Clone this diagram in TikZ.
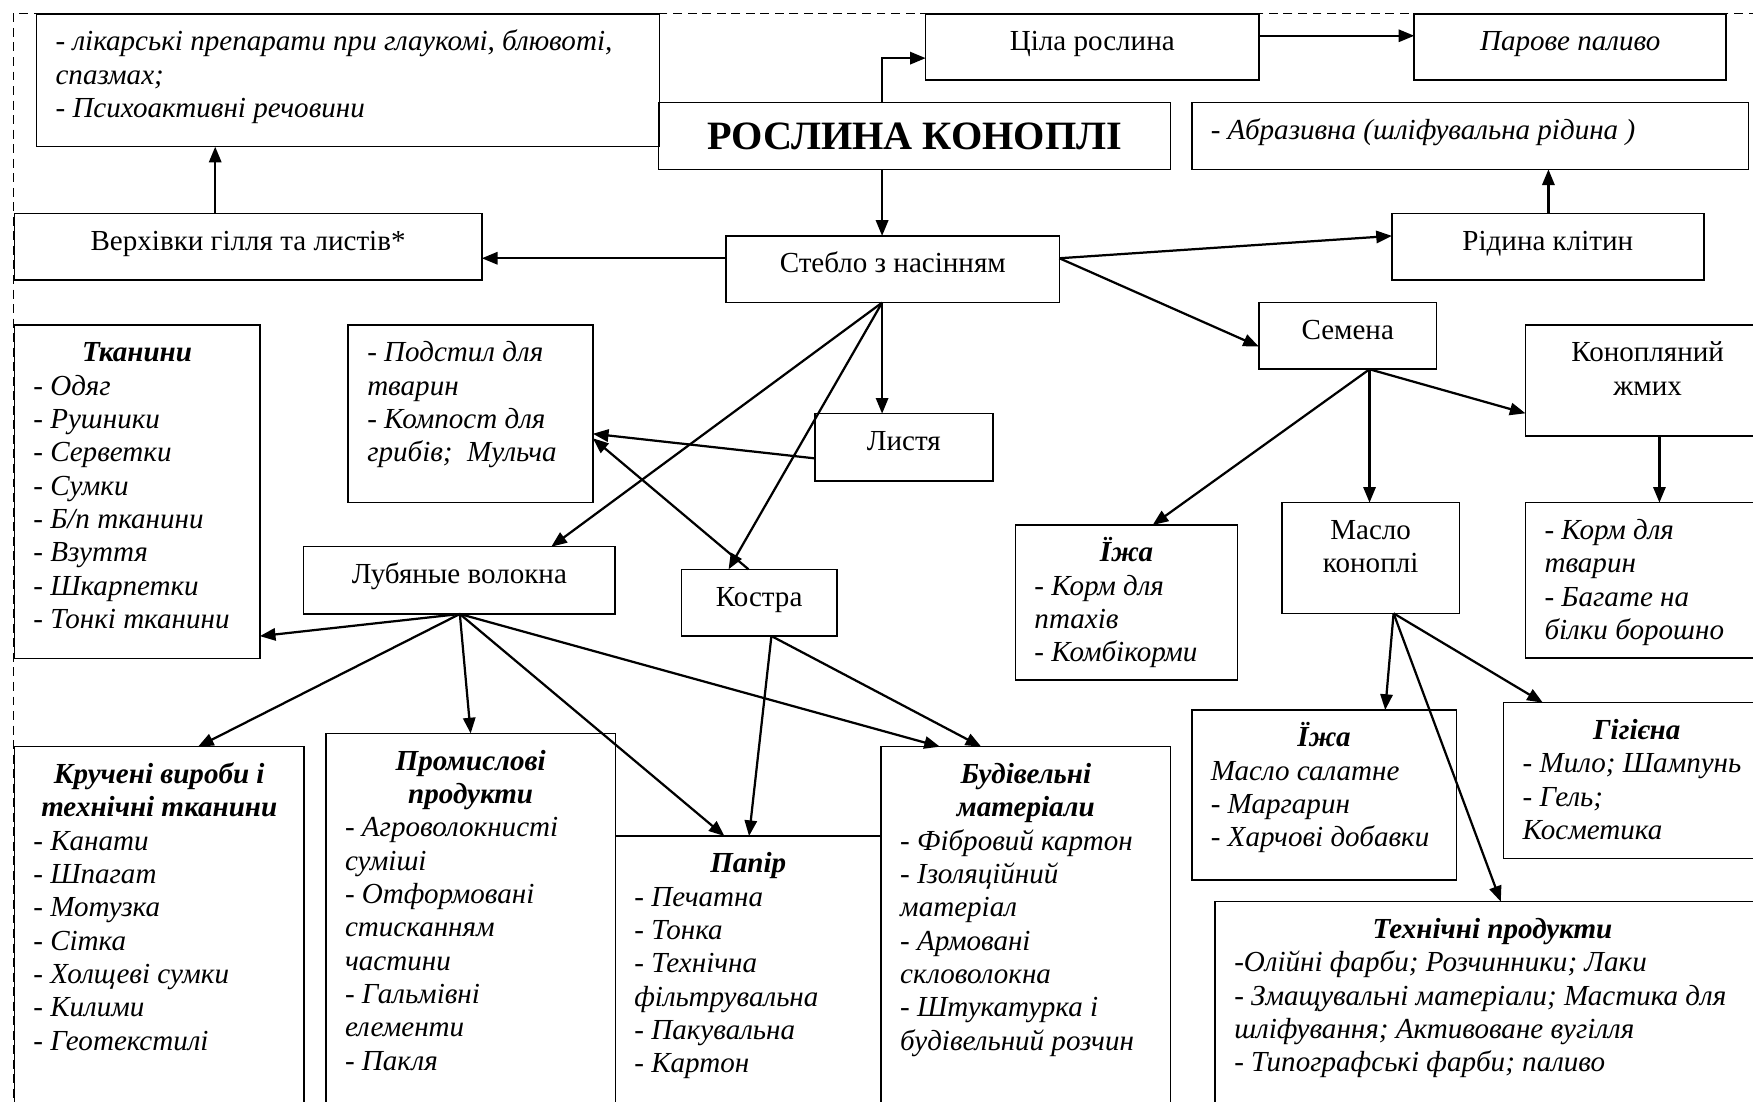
\documentclass[tikz,border=0pt]{standalone}
\usepackage{fontspec}
\setmainfont{Liberation Serif}
\usetikzlibrary{arrows.meta}

\newcommand\bodyfont{\fontsize{13}{14.9}\selectfont}
% centred line across the inner width of the current box
\newcommand\ctr[1]{\makebox[\bw][c]{#1}}
% bold centred heading line
\newcommand\hdr[1]{\ctr{\bfseries #1}}
% framed box: name, left, top, right, bottom, font, lines of text
\newcommand\plantbox[7]{%
  \node[box, minimum width={0.5pt*(#4-#2)}, minimum height={0.5pt*(#5-#3)}] (#1) at (#2,#3) {};
  \def\bw{\dimexpr #4pt/2-#2pt/2-17pt\relax}%
  \node[txt, font=\bodyfont#6] (#1-t) at ([xshift=8.5pt]#1.north west)
    {\begin{tabular}{@{}l@{}}\rule{0pt}{16.5pt}#7\end{tabular}};%
}

\begin{document}
\begin{tikzpicture}[x=0.5pt,y=-0.5pt,
  box/.style={draw, line width=0.7pt, anchor=north west, inner sep=0pt, outer sep=0pt},
  txt/.style={anchor=north west, inner sep=0pt, outer sep=0pt},
  arr/.style={line width=1pt, -{Triangle[length=7pt,width=5.5pt]}},
  border/.style={line width=0.8pt, dash pattern=on 4pt off 2.5pt}]
\useasboundingbox (0,0) rectangle (1568,985);
\clip (0,0) rectangle (1568,985);

% outer dashed frame
\draw[border] (12,12) rectangle (1620,1030);

% ---- top row
\plantbox{med}{32.7}{12.5}{590}{131.2}{\itshape}{- лікарські препарати при глаукомі, блювоті,\\ спазмах;\\ - Психоактивні речовини}
\plantbox{plant}{589}{91.8}{1047}{151.5}{}{\rule{0pt}{21pt}\ctr{\fontsize{18}{20}\selectfont\bfseries РОСЛИНА КОНОПЛІ}}
\plantbox{whole}{828}{12.5}{1126}{71.6}{}{\ctr{Ціла рослина}}
\plantbox{steam}{1265}{12.5}{1544}{71.6}{\itshape}{\ctr{Парове паливо}}
\plantbox{abr}{1066}{91.8}{1564}{151.5}{\itshape}{- Абразивна (шліфувальна рідина )}
\plantbox{verh}{12.8}{191}{431}{250.4}{}{\ctr{Верхівки гілля та листів*}}
\plantbox{stem}{649.5}{211}{947.6}{270.7}{}{\ctr{Стебло з насінням}}
\plantbox{cell}{1245}{191}{1524}{250.4}{}{\ctr{Рідина клітин}}

% ---- middle
\plantbox{seeds}{1126}{270.7}{1285}{330.3}{}{\ctr{Семена}}
\plantbox{cake}{1364.5}{290.7}{1583}{390}{}{\ctr{Конопляний}\\ \ctr{жмих}}
\plantbox{tkan}{12.8}{290.7}{232.4}{588.9}{\itshape}{\hdr{Тканини}\\ - Одяг\\ - Рушники\\ - Серветки\\ - Сумки\\ - Б/п тканини\\ - Взуття\\ - Шкарпетки\\ - Тонкі тканини}
\plantbox{litter}{311.5}{290.7}{530.3}{449.6}{\itshape}{- Подстил для\\ тварин\\ - Компост для\\ грибів;\ \ Мульча}
\plantbox{leaves}{729}{370}{888}{430}{}{\ctr{Листя}}
\plantbox{bast}{271.6}{489}{550.2}{549.2}{}{\ctr{Лубяные волокна}}
\plantbox{shive}{609.5}{509.2}{748.5}{568.9}{}{\ctr{Костра}}
\plantbox{food1}{908.3}{469.6}{1107}{608.2}{\itshape}{\hdr{Їжа}\\ - Корм для\\ птахів\\ - Комбікорми}
\plantbox{oil}{1146.5}{449.6}{1305.5}{548.6}{}{\ctr{Масло}\\ \ctr{коноплі}}
\plantbox{feed}{1364.5}{449.6}{1583}{588.8}{\itshape}{- Корм для\\ тварин\\ - Багате на\\ білки борошно}

% ---- bottom row
\plantbox{twist}{12.8}{667.9}{272.1}{1010}{\itshape}{\hdr{Кручені вироби і}\\ \hdr{технічні тканини}\\ - Канати\\ - Шпагат\\ - Мотузка\\ - Сітка\\ - Холщеві сумки\\ - Килими\\ - Геотекстилі}
\plantbox{indus}{291.6}{656}{550.4}{1010}{\itshape}{\hdr{Промислові}\\ \hdr{продукти}\\ - Агроволокнисті\\ суміші\\ - Отформовані\\ стисканням\\ частини\\ - Гальмівні\\ елементи\\ - Пакля}
\plantbox{paper}{550.4}{747.8}{788.2}{1010}{\itshape}{\hdr{Папір}\\ - Печатна\\ - Тонка\\ - Технічна\\ фільтрувальна\\ - Пакувальна\\ - Картон}
\plantbox{build}{788.2}{667.9}{1047}{1010}{\itshape}{\hdr{Будівельні}\\ \hdr{матеріали}\\ - Фібровий картон\\ - Ізоляційний\\ матеріал\\ - Армовані\\ скловолокна\\ - Штукатурка і\\ будівельний розчин}
\plantbox{food2}{1066}{635}{1302.6}{787.1}{\itshape}{\hdr{Їжа}\\ Масло салатне\\ - Маргарин\\ - Харчові добавки}
\plantbox{hyg}{1345}{628.5}{1583}{767.7}{\itshape}{\hdr{Гігієна}\\ - Мило; Шампунь\\ - Гель;\\ Косметика}
\plantbox{tech}{1087}{806.5}{1583}{1010}{\itshape}{\hdr{Технічні продукти}\\ -Олійні фарби; Розчинники; Лаки\\ - Змащувальні матеріали; Мастика для\\ шліфування; Активоване вугілля\\ - Типографські фарби; паливо}

% ---- branching points
\coordinate (stemfan) at ([shift={(139.5,59.7)}]stem.north west);
\coordinate (bastfan) at ([shift={(139.7,60.2)}]bast.north west);
\coordinate (shivefan) at ([shift={(80.5,59.7)}]shive.north west);
\coordinate (seedfan) at ([shift={(99,59.6)}]seeds.north west);
\coordinate (oilfan) at ([shift={(100,99)}]oil.north west);

% ---- connectors
\draw[arr] ([shift={(179.7,0)}]verh.north west) -- ([shift={(159.8,118.7)}]med.north west);
\draw[arr] ([shift={(200,0)}]plant.north west) |- ([shift={(0,39.5)}]whole.north west);
\draw[arr] ([shift={(298,19.5)}]whole.north west) -- ([shift={(0,19.5)}]steam.north west);
\draw[arr] ([shift={(200,59.7)}]plant.north west) -- ([shift={(139.5,0)}]stem.north west);
\draw[arr] ([shift={(0,20)}]stem.north west) -- ([shift={(418.2,40)}]verh.north west);
\draw[arr] ([shift={(298.1,20)}]stem.north west) -- ([shift={(0,20)}]cell.north west);
\draw[arr] ([shift={(140,0)}]cell.north west) -- ([shift={(319,59.7)}]abr.north west);
\draw[arr] ([shift={(298.1,20)}]stem.north west) -- ([shift={(0,39.3)}]seeds.north west);

\draw[arr] (stemfan) -- ([shift={(60,0)}]leaves.north west);
\draw[arr] (stemfan) -- ([shift={(221.5,0)}]bast.north west);
\draw[arr] (stemfan) -- ([shift={(42.2,0)}]shive.north west);
\draw[arr] ([shift={(0,40)}]leaves.north west) -- ([shift={(218.8,97.3)}]litter.north west);
\draw[arr] ([shift={(60,0)}]shive.north west) -- ([shift={(218.8,101.3)}]litter.north west);

\draw[arr] (bastfan) -- ([shift={(219.6,278.3)}]tkan.north west);
\draw[arr] (bastfan) -- ([shift={(164.3,0)}]twist.north west);
\draw[arr] (bastfan) -- ([shift={(129.4,0)}]indus.north west);
\draw[arr] (bastfan) -- ([shift={(97.6,0)}]paper.north west);
\draw[arr] (bastfan) -- ([shift={(52.5,0)}]build.north west);
\draw[arr] (shivefan) -- ([shift={(119.6,0)}]paper.north west);
\draw[arr] (shivefan) -- ([shift={(89.5,0)}]build.north west);

\draw[arr] (seedfan) -- ([shift={(0,79)}]cake.north west);
\draw[arr] (seedfan) -- ([shift={(78.5,0)}]oil.north west);
\draw[arr] (seedfan) -- ([shift={(122.7,0)}]food1.north west);
\draw[arr] ([shift={(119.8,99.3)}]cake.north west) -- ([shift={(119.8,0)}]feed.north west);

\draw[arr] (oilfan) -- ([shift={(173,0)}]food2.north west);
\draw[arr] (oilfan) -- ([shift={(255.4,0)}]tech.north west);
\draw[arr] (oilfan) -- ([shift={(35,0)}]hyg.north west);
\end{tikzpicture}
\end{document}
